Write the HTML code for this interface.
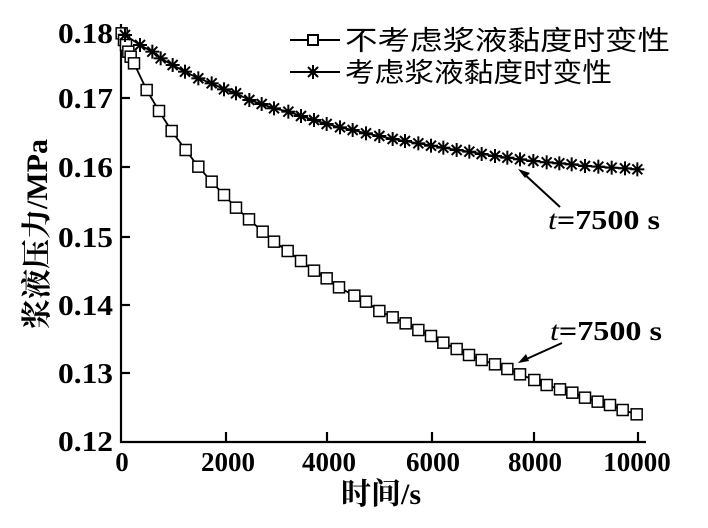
<!DOCTYPE html>
<html><head><meta charset="utf-8"><style>body{margin:0;background:#fff} svg text{font-family:"Liberation Serif","Noto Serif CJK SC",serif;font-weight:bold} .cj{font-family:"Noto Sans CJK SC",sans-serif !important;font-weight:normal !important}</style></head><body>
<svg id="s" width="708" height="523" xmlns="http://www.w3.org/2000/svg">
<rect width="708" height="523" fill="#fff"/>
<g stroke="#000" stroke-width="2.2" fill="none">
<polyline points="121,24 121,442 646,442"/>
<line x1="226" y1="442" x2="226" y2="432"/><line x1="327" y1="442" x2="327" y2="432"/><line x1="432" y1="442" x2="432" y2="432"/><line x1="534" y1="442" x2="534" y2="432"/><line x1="638" y1="442" x2="638" y2="432"/>
<line x1="121" y1="98" x2="130" y2="98"/><line x1="121" y1="167" x2="130" y2="167"/><line x1="121" y1="237" x2="130" y2="237"/><line x1="121" y1="305" x2="130" y2="305"/><line x1="121" y1="373" x2="130" y2="373"/>
</g>
<g font-size="28" text-anchor="end">
<text x="113" y="43" textLength="55" lengthAdjust="spacingAndGlyphs">0.18</text><text x="113" y="108" textLength="55" lengthAdjust="spacingAndGlyphs">0.17</text><text x="113" y="177" textLength="55" lengthAdjust="spacingAndGlyphs">0.16</text><text x="113" y="247" textLength="55" lengthAdjust="spacingAndGlyphs">0.15</text><text x="113" y="315" textLength="55" lengthAdjust="spacingAndGlyphs">0.14</text><text x="113" y="383" textLength="55" lengthAdjust="spacingAndGlyphs">0.13</text><text x="113" y="451" textLength="55" lengthAdjust="spacingAndGlyphs">0.12</text>
</g>
<g font-size="27" text-anchor="middle">
<text x="122" y="471">0</text><text x="228" y="471">2000</text><text x="329" y="471">4000</text><text x="433" y="471">6000</text><text x="535" y="471">8000</text><text x="637" y="471">10000</text>
<text x="381" y="504" font-size="30">时间/s</text>
<text transform="translate(47,234) rotate(-90)" font-size="30">浆液压力/MPa</text>
</g>
<g id="sq"></g><g id="st"></g>
<g stroke="#000" stroke-width="2" fill="none">
<line x1="290" y1="40" x2="340" y2="40"/><rect x="308" y="35" width="10" height="10" fill="#fff"/>
<line x1="290" y1="72" x2="340" y2="72"/>
<line x1="313" y1="65" x2="313" y2="79"/><line x1="306" y1="72" x2="320" y2="72"/><line x1="308" y1="67" x2="318" y2="77"/><line x1="318" y1="67" x2="308" y2="77"/>
<line x1="560" y1="207" x2="522" y2="172"/><line x1="562" y1="343" x2="522" y2="361"/>
</g>
<polygon points="518,169 530,173 525,178" fill="#000"/>
<polygon points="518,363 526,354 529,361" fill="#000"/>
<g font-size="27">
<text class="cj" x="345" y="50" textLength="325" lengthAdjust="spacingAndGlyphs">不考虑浆液黏度时变性</text>
<text class="cj" x="345" y="82" textLength="267" lengthAdjust="spacingAndGlyphs">考虑浆液黏度时变性</text>
</g>
<g font-size="27"><text x="548" y="229" textLength="112" lengthAdjust="spacingAndGlyphs"><tspan font-style="italic" font-weight="normal">t</tspan>=7500 s</text><text x="550" y="340" textLength="112" lengthAdjust="spacingAndGlyphs"><tspan font-style="italic" font-weight="normal">t</tspan>=7500 s</text></g>
</svg>
<script>
var sq=[[5,10],[12,30],[18,45],[25,65],[32,80],[42,100],[80,180],[117,243],[155,303],[197,360],[235,410],[275,455],[312,495],[348,533],[387,568],[428,605],[462,635],[503,663],[543,693],[582,722],[620,745],[657,772],[703,797],[738,815],[778,843],[818,862],[857,880],[895,900],[933,918],[970,938],[1010,957],[1047,975],[1085,990],[1125,1003],[1162,1017],[1200,1033],[1243,1050],[1280,1065],[1320,1078],[1357,1088],[1395,1103],[1433,1115],[1470,1125],[1508,1140],[1550,1153]];
var st=[[15,15],[60,45],[97,65],[122,85],[158,105],[195,125],[235,145],[275,160],[312,178],[348,190],[388,210],[425,222],[462,235],[505,245],[543,258],[582,270],[620,282],[660,292],[698,300],[738,310],[778,318],[818,327],[855,333],[895,340],[933,347],[970,353],[1010,360],[1048,365],[1085,372],[1125,378],[1162,383],[1200,388],[1240,393],[1280,397],[1318,400],[1355,403],[1395,408],[1435,410],[1475,413],[1515,415],[1552,418]];
var ns="http://www.w3.org/2000/svg";
function c(p){return [p[0]/3+120,p[1]/3+30];}
function line(g,pts){var pl=document.createElementNS(ns,"polyline");pl.setAttribute("points",pts.map(function(p){return c(p).join(",")}).join(" "));pl.setAttribute("fill","none");pl.setAttribute("stroke","#000");pl.setAttribute("stroke-width","1.8");g.appendChild(pl);}
var g1=document.getElementById("sq"),g2=document.getElementById("st");
line(g1,sq);line(g2,st);
sq.forEach(function(p){var q=c(p),r=document.createElementNS(ns,"rect");r.setAttribute("x",q[0]-5.5);r.setAttribute("y",q[1]-5.5);r.setAttribute("width",11);r.setAttribute("height",11);r.setAttribute("fill","#fff");r.setAttribute("stroke","#000");r.setAttribute("stroke-width","1.5");g1.appendChild(r);});
st.forEach(function(p){var q=c(p),x=q[0],y=q[1];[[0,-7,0,7],[-7,0,7,0],[-5,-5,5,5],[5,-5,-5,5]].forEach(function(d){var l=document.createElementNS(ns,"line");l.setAttribute("x1",x+d[0]);l.setAttribute("y1",y+d[1]);l.setAttribute("x2",x+d[2]);l.setAttribute("y2",y+d[3]);l.setAttribute("stroke","#000");l.setAttribute("stroke-width","2");g2.appendChild(l);});});
</script>
</body></html>
